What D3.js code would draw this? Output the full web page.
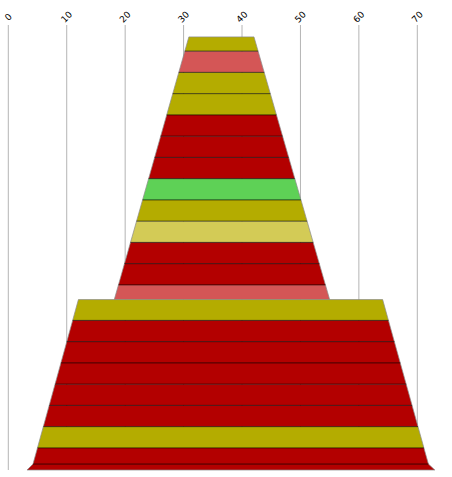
<!DOCTYPE html>
<html>
<head>
<meta charset="utf-8">
<script src="https://cdn.jsdelivr.net/npm/d3@7"></script>
<style>
  body { margin: 0; background: #fff; }
  svg { display: block; }
</style>
</head>
<body>
<svg id="chart" width="452" height="477"></svg>
<script>
const svg = d3.select('#chart');
const width = +svg.attr('width');
const height = +svg.attr('height');

// x ticks along the top
const xTicks = [0, 10, 20, 30, 40, 50, 60, 70];

// cone outlines: [row, left value, right value]
const topOutline = [[0.56, 30.9, 42.05], [12.92, 18.14, 55.0]];
const bottomOutline = [[12.92, 12.0, 64.07], [20.66, 4.23, 71.9], [20.94, 3.2, 73.0]];

// segment heights (in rows) and colour keys, top to bottom
const topHeights = [0.67, 1, 1, 1, 1, 1, 1, 1, 1, 1, 1, 1, 0.69];
const topKinds = ['olive', 'salmon', 'olive', 'olive', 'red', 'red', 'red', 'green', 'olive', 'pale', 'red', 'red', 'salmon'];
const bottomHeights = [0.98, 1, 1, 1, 1, 1, 1, 0.76, 0.28];
const bottomKinds = ['olive', 'red', 'red', 'red', 'red', 'red', 'olive', 'red', 'red'];

const palette = {
    red: '#b30000',
    olive: '#b4ac00',
    salmon: '#d45656',
    green: '#5ed156',
    pale: '#d3cb56'
};

const x = d3.scaleLinear().domain([0, 70]).range([8.3, 417.3]);
const y = d3.scaleLinear().domain([0, 20.94]).range([25, 470]);

// gridlines
svg.append('g')
    .selectAll('line')
    .data(xTicks)
    .enter()
    .append('line')
    .attr('x1', d => x(d))
    .attr('x2', d => x(d))
    .attr('y1', y(0))
    .attr('y2', y.range()[1])
    .attr('stroke', '#b4b4b4')
    .attr('stroke-width', 1);

// rotated tick labels
svg.append('g')
    .selectAll('text')
    .data(xTicks)
    .enter()
    .append('text')
    .attr('transform', d => `translate(${x(d)},17) rotate(-45)`)
    .attr('text-anchor', 'middle')
    .attr('dominant-baseline', 'central')
    .attr('font-family', 'DejaVu Sans, sans-serif')
    .attr('font-size', 9)
    .attr('fill', '#000')
    .text(d => d);

// edge of an outline at a given row
function edgeAt(outline, r) {
    for (let i = 0; i < outline.length - 1; i++) {
        const a = outline[i], b = outline[i + 1];
        if (r <= b[0] + 1e-9) {
            const t = (r - a[0]) / (b[0] - a[0]);
            return [a[1] + (b[1] - a[1]) * t, a[2] + (b[2] - a[2]) * t];
        }
    }
    const last = outline[outline.length - 1];
    return [last[1], last[2]];
}

function buildSegments(outline, heights, kinds) {
    const segs = [];
    let r = outline[0][0];
    heights.forEach((h, i) => {
        const r0 = r, r1 = r + h;
        const pts = [[r0, ...edgeAt(outline, r0)]];
        outline.forEach(p => { if (p[0] > r0 + 1e-9 && p[0] < r1 - 1e-9) pts.push(p); });
        pts.push([r1, ...edgeAt(outline, r1)]);
        segs.push({ r0, r1, pts, kind: kinds[i] });
        r = r1;
    });
    return segs;
}

function segPath(s) {
    const left = s.pts.map(p => [x(p[1]), y(p[0])]);
    const right = s.pts.slice().reverse().map(p => [x(p[2]), y(p[0])]);
    return d3.line()(left.concat(right)) + 'Z';
}

function drawCone(outline, heights, kinds) {
    const g = svg.append('g');
    const segs = buildSegments(outline, heights, kinds);

    g.selectAll('path.seg')
        .data(segs)
        .enter()
        .append('path')
        .attr('class', 'seg')
        .attr('d', segPath)
        .attr('fill', d => palette[d.kind])
        .attr('stroke', 'none');

    // whole outline in light grey
    const left = outline.map(p => [x(p[1]), y(p[0])]);
    const right = outline.slice().reverse().map(p => [x(p[2]), y(p[0])]);
    g.append('path')
        .attr('d', d3.line()(left.concat(right)) + 'Z')
        .attr('fill', 'none')
        .attr('stroke', '#8a8a8a')
        .attr('stroke-opacity', 0.7)
        .attr('stroke-width', 1);

    // dark separators between segments
    g.selectAll('line.sep')
        .data(segs.slice(1))
        .enter()
        .append('line')
        .attr('class', 'sep')
        .attr('x1', d => x(d.pts[0][1]))
        .attr('x2', d => x(d.pts[0][2]))
        .attr('y1', d => y(d.r0))
        .attr('y2', d => y(d.r0))
        .attr('stroke', '#000')
        .attr('stroke-opacity', 0.65)
        .attr('stroke-width', 1);
}

drawCone(topOutline, topHeights, topKinds);
drawCone(bottomOutline, bottomHeights, bottomKinds);
</script>
</body>
</html>
